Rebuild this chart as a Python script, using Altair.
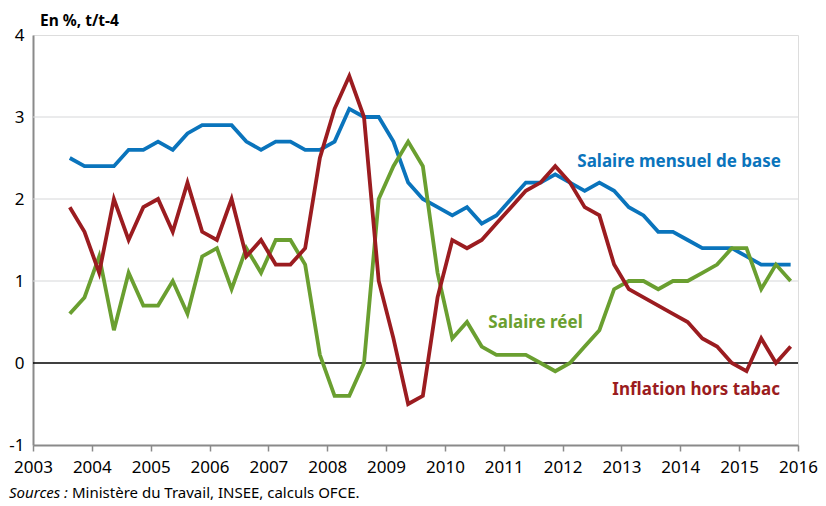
import altair as alt
import pandas as pd

# Quarters 2003Q3 .. 2015Q4
years = [2003]*2 + [y for y in range(2004, 2016) for _ in range(4)]
quarters = [3, 4] + [q for _ in range(2004, 2016) for q in (1, 2, 3, 4)]

salaire_base = [2.5, 2.4,
                2.4, 2.4, 2.6, 2.6,
                2.7, 2.6, 2.8, 2.9,
                2.9, 2.9, 2.7, 2.6,
                2.7, 2.7, 2.6, 2.6,
                2.7, 3.1, 3.0, 3.0,
                2.7, 2.2, 2.0, 1.9,
                1.8, 1.9, 1.7, 1.8,
                2.0, 2.2, 2.2, 2.3,
                2.2, 2.1, 2.2, 2.1,
                1.9, 1.8, 1.6, 1.6,
                1.5, 1.4, 1.4, 1.4,
                1.3, 1.2, 1.2, 1.2]

salaire_reel = [0.6, 0.8,
                1.3, 0.4, 1.1, 0.7,
                0.7, 1.0, 0.6, 1.3,
                1.4, 0.9, 1.4, 1.1,
                1.5, 1.5, 1.2, 0.1,
                -0.4, -0.4, 0.0, 2.0,
                2.4, 2.7, 2.4, 1.1,
                0.3, 0.5, 0.2, 0.1,
                0.1, 0.1, 0.0, -0.1,
                0.0, 0.2, 0.4, 0.9,
                1.0, 1.0, 0.9, 1.0,
                1.0, 1.1, 1.2, 1.4,
                1.4, 0.9, 1.2, 1.0]

inflation = [1.9, 1.6,
             1.1, 2.0, 1.5, 1.9,
             2.0, 1.6, 2.2, 1.6,
             1.5, 2.0, 1.3, 1.5,
             1.2, 1.2, 1.4, 2.5,
             3.1, 3.5, 3.0, 1.0,
             0.3, -0.5, -0.4, 0.8,
             1.5, 1.4, 1.5, 1.7,
             1.9, 2.1, 2.2, 2.4,
             2.2, 1.9, 1.8, 1.2,
             0.9, 0.8, 0.7, 0.6,
             0.5, 0.3, 0.2, 0.0,
             -0.1, 0.3, 0.0, 0.2]

series_names = ["Salaire mensuel de base", "Salaire réel", "Inflation hors tabac"]
series_colors = ["#0a74bc", "#6a9f30", "#9b1c20"]

label_x = [2013.98, 2011.54, 2014.27]
label_y = [2.45, 0.49, -0.33]

year_ticks = list(range(2003, 2017))
y_ticks = [-1, 0, 1, 2, 3, 4]
grid_vals = [1, 2, 3]

FONT = "Noto Sans"

t = [y + (q - 0.5) / 4 for y, q in zip(years, quarters)]
rows = []
for name, vals in zip(series_names, [salaire_base, salaire_reel, inflation]):
    for ti, v in zip(t, vals):
        rows.append({"t": ti, "v": v, "serie": name})
df = pd.DataFrame(rows)

xscale = alt.Scale(domain=[2003, 2016], nice=False, zero=False)
yscale = alt.Scale(domain=[-1, 4], nice=False, zero=False)

x_axis = alt.Axis(values=year_ticks, labelExpr="'' + datum.value", grid=False,
                  domainColor="#8a8a8a", domainWidth=2, tickColor="#8a8a8a",
                  tickSize=6, tickWidth=1.5, labelPadding=8, labelFontSize=17,
                  labelColor="#000000", labelFont=FONT, title=None,
                  labelFlush=False)
y_axis = alt.Axis(values=y_ticks, labelExpr="'' + datum.value", grid=False,
                  domainColor="#8a8a8a", domainWidth=2, ticks=False,
                  labelPadding=9, labelFontSize=17, labelColor="#000000",
                  labelFont=FONT, title=None, labelFlush=False)

XE = lambda f: alt.X(f, scale=xscale, axis=x_axis)
YE = lambda f: alt.Y(f, scale=yscale, axis=y_axis)

grid = alt.Chart(pd.DataFrame({"g": grid_vals})).mark_rule(
    color="#d6d7d9", strokeWidth=1
).encode(y=YE("g:Q"))

zero = alt.Chart(pd.DataFrame({"z": [0]})).mark_rule(
    color="#000000", strokeWidth=1.3
).encode(y=YE("z:Q"))

color_scale = alt.Scale(domain=series_names, range=series_colors)

lines = []
for name in series_names:
    ch = alt.Chart(df).transform_filter(alt.datum.serie == name).mark_line(
        strokeWidth=3.8, strokeJoin="miter"
    ).encode(
        x=XE("t:Q"),
        y=YE("v:Q"),
        color=alt.Color("serie:N", scale=color_scale, legend=None),
    )
    lines.append(ch)

labels_df = pd.DataFrame({"x": label_x, "y": label_y, "serie": series_names})
labels = alt.Chart(labels_df).mark_text(
    font=FONT, fontSize=17, fontWeight="bold", align="center", baseline="middle"
).encode(
    x=XE("x:Q"),
    y=YE("y:Q"),
    text="serie:N",
    color=alt.Color("serie:N", scale=color_scale, legend=None),
)

title = alt.Chart(pd.DataFrame({"s": ["En %, t/t-4"]})).mark_text(
    font=FONT, fontSize=15.5, fontWeight="bold", align="left", baseline="middle",
    color="#000000"
).encode(x=alt.value(7), y=alt.value(-14), text="s:N")

src1 = alt.Chart(pd.DataFrame({"s": ["Sources :"]})).mark_text(
    font=FONT, fontSize=15, fontStyle="italic", align="left", baseline="middle",
    color="#000000"
).encode(x=alt.value(-24), y=alt.value(458), text="s:N")

src2 = alt.Chart(pd.DataFrame({"s": ["Ministère du Travail, INSEE, calculs OFCE."]})).mark_text(
    font=FONT, fontSize=15, align="left", baseline="middle", color="#000000"
).encode(x=alt.value(39), y=alt.value(458), text="s:N")

chart = alt.layer(grid, zero, *lines, labels, title, src1, src2).properties(
    width=765, height=410,
    autosize=alt.AutoSizeParams(type="none"),
    padding={"left": 25, "top": 27, "right": 20, "bottom": 62},
).configure_view(fill="#f0f1f3", strokeWidth=0).configure(background="#ffffff")

chart.save("out.html", embed_options={"renderer": "svg", "actions": False})
